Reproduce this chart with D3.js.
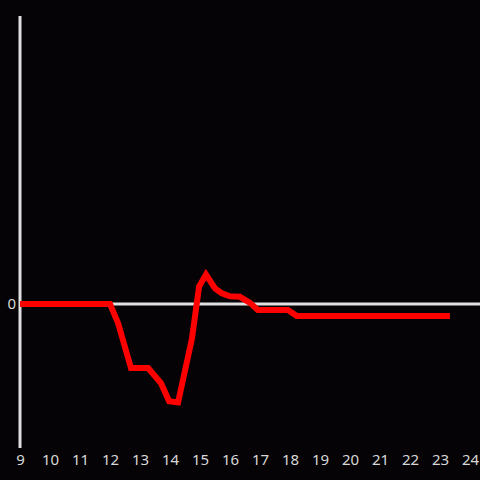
<!DOCTYPE html>
<html>
<head>
<meta charset="utf-8">
<script src="https://cdn.jsdelivr.net/npm/d3@7"></script>
<style>
  html, body { margin: 0; padding: 0; background: #050306; }
  svg { display: block; }
  .tick text { font-family: "Noto Sans", "Open Sans", sans-serif; }
</style>
</head>
<body>
<div id="chart"></div>
<script>
const hours = [9, 12, 12.27, 12.7, 13.27, 13.7, 13.97, 14.27, 14.73, 14.97, 15.2, 15.5, 15.73, 16.0, 16.33, 16.67, 16.93, 17.93, 18.23, 23.33];
const values = [0, 0, -1.6, -5.33, -5.33, -6.6, -8.1, -8.2, -2.9, 1.45, 2.45, 1.3, 0.9, 0.65, 0.6, 0.1, -0.5, -0.5, -1.0, -1.0];
const xTicks = d3.range(9, 25);
const yTicks = [0];

const width = 480, height = 480;

const svg = d3.select("#chart")
    .append("svg")
    .attr("width", width)
    .attr("height", height);

svg.append("rect").attr("width", width).attr("height", height).attr("fill", "#050306");

const x = d3.scaleLinear().domain([9, 24]).range([20, 470]);
const y = d3.scaleLinear().domain([-12, 24]).range([448, 16]);

const data = hours.map((h, i) => ({h: h, v: values[i]}));

// zero line
svg.append("line")
    .attr("x1", x(9)).attr("x2", width)
    .attr("y1", y(0)).attr("y2", y(0))
    .attr("stroke", "#e0e0e0")
    .attr("stroke-width", 3);

// y axis line
svg.append("line")
    .attr("x1", x(9)).attr("x2", x(9))
    .attr("y1", y(24)).attr("y2", y(-12))
    .attr("stroke", "#e0e0e0")
    .attr("stroke-width", 3);

// x tick labels
const xAxis = svg.append("g")
    .attr("transform", "translate(0," + y(-12) + ")")
    .call(d3.axisBottom(x).tickValues(xTicks).tickSize(0).tickPadding(6).tickFormat(d3.format("d")));
xAxis.select(".domain").remove();
xAxis.selectAll("text").attr("fill", "#d8d8d8").style("font-size", "15px");

// y tick label
const yAxis = svg.append("g")
    .attr("transform", "translate(" + x(9) + ",0)")
    .call(d3.axisLeft(y).tickValues(yTicks).tickSize(0).tickPadding(4));
yAxis.select(".domain").remove();
yAxis.selectAll("text").attr("fill", "#d8d8d8").style("font-size", "15px");

const line = d3.line()
    .x(d => x(d.h))
    .y(d => y(d.v));

svg.append("path")
    .datum(data)
    .attr("d", line)
    .attr("fill", "none")
    .attr("stroke", "#ff0000")
    .attr("stroke-width", 6)
    .attr("stroke-linejoin", "miter");
</script>
</body>
</html>
